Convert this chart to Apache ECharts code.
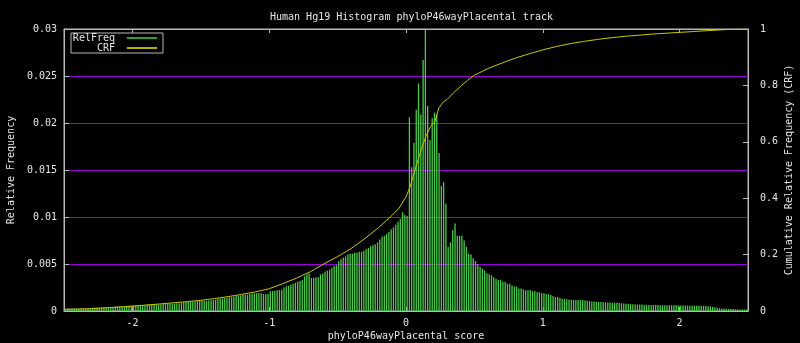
<!DOCTYPE html>
<html><head><meta charset="utf-8">
<script src="https://cdn.jsdelivr.net/npm/echarts@6/dist/echarts.min.js"></script>
<style>html,body{margin:0;padding:0;background:#000}#c{width:800px;height:343px}</style>
</head><body><div id="c"></div>
<script>
// Histogram bins: 300 bins of width 1/60 covering -2.5 .. 2.5
const binStart = -2.5;
const binWidth = 1 / 60;
const relFreq = [
0.00025,0.00027,0.00026,0.00024,0.00027,0.00026,0.00025,0.00028,0.00026,0.00027,
0.00028,0.00027,0.00035,0.00037,0.00036,0.00038,0.00037,0.00036,0.00039,0.00038,
0.0004,0.00042,0.0005,0.00048,0.00052,0.0005,0.00049,0.00053,0.00055,0.00058,
0.0006,0.00059,0.00062,0.00061,0.00063,0.00062,0.00068,0.0007,0.00069,0.00071,
0.0007,0.00072,0.00071,0.00074,0.00073,0.00076,0.00078,0.0008,0.00079,0.00082,
0.00081,0.00084,0.00092,0.00095,0.00098,0.001,0.00099,0.00102,0.00104,0.00106,
0.00108,0.0011,0.00109,0.00112,0.00115,0.00118,0.0012,0.00128,0.00132,0.00135,
0.00138,0.0014,0.00143,0.00148,0.00155,0.0016,0.00163,0.00166,0.0017,0.00172,
0.00175,0.0018,0.00185,0.00188,0.0019,0.00192,0.0019,0.0018,0.00178,0.00182,
0.0021,0.00212,0.00215,0.0022,0.00222,0.00225,0.0025,0.00262,0.00268,0.0028,
0.0029,0.003,0.0031,0.0032,0.0033,0.0037,0.0039,0.004,0.0035,0.0035,
0.0036,0.0036,0.0039,0.004,0.0042,0.0043,0.0044,0.0046,0.0048,0.0049,
0.0053,0.0055,0.0057,0.0058,0.006,0.0061,0.0061,0.0062,0.0062,0.0063,
0.0063,0.0064,0.0066,0.0067,0.0069,0.007,0.0071,0.0073,0.0076,0.0079,
0.008,0.0082,0.0084,0.0087,0.0089,0.0092,0.0095,0.0098,0.0105,0.0102,
0.0101,0.0206,0.0153,0.0179,0.0214,0.0242,0.0209,0.0267,0.0299,0.0218,
0.0182,0.0205,0.0211,0.0209,0.0168,0.0133,0.0137,0.0114,0.0068,0.0073,
0.0086,0.0093,0.008,0.008,0.008,0.0075,0.0068,0.0061,0.006,0.0056,
0.0053,0.005,0.0047,0.0045,0.0043,0.004,0.0039,0.0038,0.0036,0.0034,
0.0033,0.0033,0.0031,0.0031,0.0029,0.0029,0.0027,0.0026,0.0026,0.0024,
0.0024,0.0023,0.0022,0.0022,0.0022,0.0021,0.0021,0.002,0.002,0.0019,
0.0019,0.0018,0.0018,0.0017,0.0016,0.0015,0.0015,0.0014,0.0013,0.0013,
0.00125,0.0012,0.0012,0.00118,0.00116,0.00118,0.00115,0.00116,0.00112,0.0011,
0.00105,0.001,0.001,0.00098,0.00097,0.00096,0.00094,0.00092,0.0009,0.0009,
0.00088,0.00087,0.00087,0.00085,0.00082,0.0008,0.00078,0.00075,0.00073,0.00072,
0.0007,0.0007,0.00069,0.00068,0.00067,0.00066,0.00065,0.00064,0.00064,0.00063,
0.00063,0.00062,0.00062,0.00062,0.00062,0.00061,0.00061,0.0006,0.0006,0.0006,
0.00059,0.00059,0.00058,0.00058,0.00057,0.00057,0.00056,0.00056,0.00055,0.00055,
0.00054,0.00052,0.0005,0.00048,0.00046,0.0004,0.00035,0.0003,0.00027,0.00026,
0.00024,0.00022,0.0002,0.0002,0.00019,0.00018,0.00017,0.00016,0.00015,0.00015
];
// Cumulative relative frequency
const crfX = [-2.49,-2.3,-2.2,-2.1,-2.0,-1.9,-1.8,-1.7,-1.6,-1.5,-1.4,-1.3,-1.2,-1.1,-1.0,-0.9,-0.8,-0.7,-0.6,-0.5,-0.4,-0.3,-0.2,-0.1,-0.05,0,0.03,0.06,0.09,0.12,0.15,0.18,0.21,0.24,0.27,0.3,0.35,0.4,0.45,0.5,0.6,0.7,0.8,0.9,1.0,1.1,1.2,1.3,1.4,1.5,1.6,1.7,1.8,1.9,2.0,2.1,2.2,2.3,2.4,2.5];
const crfY = [0.006,0.008,0.011,0.014,0.017,0.021,0.025,0.029,0.033,0.038,0.044,0.051,0.059,0.068,0.079,0.097,0.117,0.139,0.167,0.193,0.222,0.257,0.296,0.34,0.365,0.405,0.44,0.49,0.54,0.585,0.625,0.655,0.67,0.72,0.74,0.75,0.775,0.797,0.818,0.836,0.86,0.879,0.897,0.912,0.926,0.938,0.948,0.956,0.963,0.969,0.974,0.978,0.982,0.985,0.988,0.991,0.994,0.997,0.999,1.0];
const xTicks = [-2, -1, 0, 1, 2];
const titleText = 'Human Hg19 Histogram phyloP46wayPlacental track';
const xName = 'phyloP46wayPlacental score';
const yName = 'Relative Frequency';
const y2Name = 'Cumulative Relative Frequency (CRF)';

const barData = relFreq.map((v, i) => [binStart + (i + 0.5) * binWidth, v]);
const crfData = crfX.map((x, i) => [x, crfY[i]]);

const FONT = 'DejaVu Sans Mono';
const TXT = '#e6e6e6';
const AX = '#b8b8b8';
const PURPLE = '#9a00d8';
const labelStyle = { color: TXT, fontFamily: FONT, fontSize: 10 };

const chart = echarts.init(document.getElementById('c'), null, { renderer: 'canvas' });
chart.setOption({
  animation: false,
  backgroundColor: '#000',
  title: {
    text: titleText, left: 265, top: 7,
    textStyle: { color: TXT, fontFamily: FONT, fontSize: 10, fontWeight: 'normal' }
  },
  legend: {
    orient: 'vertical', left: 71, top: 33,
    padding: [0, 6, 0, 0], itemGap: 0,
    itemWidth: 30, itemHeight: 2, align: 'right',
    borderColor: AX, borderWidth: 1,
    textStyle: { color: TXT, fontFamily: FONT, fontSize: 10, lineHeight: 10, width: 44, align: 'right', padding: [0, 7, 0, 0] },
    data: [
      { name: 'RelFreq', icon: 'rect', itemStyle: { color: '#2e9e2e' } },
      { name: 'CRF', icon: 'rect', itemStyle: { color: '#b4b400' } }
    ]
  },
  grid: { left: 64, right: 52, top: 29, bottom: 32, show: true, borderColor: AX, borderWidth: 1,
          containLabel: false, outerBoundsMode: 'none' },
  xAxis: [{
    type: 'value', min: -2.5, max: 2.5, position: 'bottom',
    name: xName, nameLocation: 'middle', nameGap: 20, nameMoveOverlap: false,
    nameTextStyle: labelStyle,
    axisLine: { show: true, onZero: false, lineStyle: { color: AX } },
    axisTick: { show: true, inside: true, length: 4, customValues: xTicks, lineStyle: { color: AX } },
    axisLabel: { show: true, customValues: xTicks, margin: 7, ...labelStyle },
    splitLine: { show: false }
  }, {
    type: 'value', min: -2.5, max: 2.5, position: 'top',
    axisLine: { show: true, onZero: false, lineStyle: { color: AX } },
    axisTick: { show: true, inside: true, length: 4, customValues: xTicks, lineStyle: { color: AX } },
    axisLabel: { show: false },
    splitLine: { show: false }
  }],
  yAxis: [{
    type: 'value', min: 0, max: 0.03, interval: 0.005, position: 'left',
    name: yName, nameLocation: 'middle', nameGap: 48, nameRotate: 90, nameMoveOverlap: false,
    nameTextStyle: labelStyle,
    axisLine: { show: true, onZero: false, lineStyle: { color: AX } },
    axisTick: { show: true, inside: true, length: 5, lineStyle: { color: AX } },
    axisLabel: { margin: 7, ...labelStyle },
    splitLine: { show: true, lineStyle: { color: PURPLE, width: 1, opacity: 1, type: 'solid' } }
  }, {
    type: 'value', min: 0, max: 1, interval: 0.2, position: 'right',
    name: y2Name, nameLocation: 'middle', nameGap: 36, nameRotate: 90, nameMoveOverlap: false,
    nameTextStyle: labelStyle,
    axisLine: { show: true, onZero: false, lineStyle: { color: AX } },
    axisTick: { show: true, inside: true, length: 5, lineStyle: { color: AX } },
    axisLabel: { margin: 12, ...labelStyle },
    splitLine: { show: false }
  }],
  series: [{
    name: 'RelFreq', type: 'bar', xAxisIndex: 0, yAxisIndex: 0,
    data: barData, barWidth: 1.3,
    itemStyle: { color: '#48cc48' }
  }, {
    name: 'CRF', type: 'line', xAxisIndex: 0, yAxisIndex: 1,
    data: crfData, showSymbol: false, symbol: 'none',
    lineStyle: { color: '#c8c800', width: 1 },
    itemStyle: { color: '#c8c800' }
  }]
});
</script>
</body></html>
